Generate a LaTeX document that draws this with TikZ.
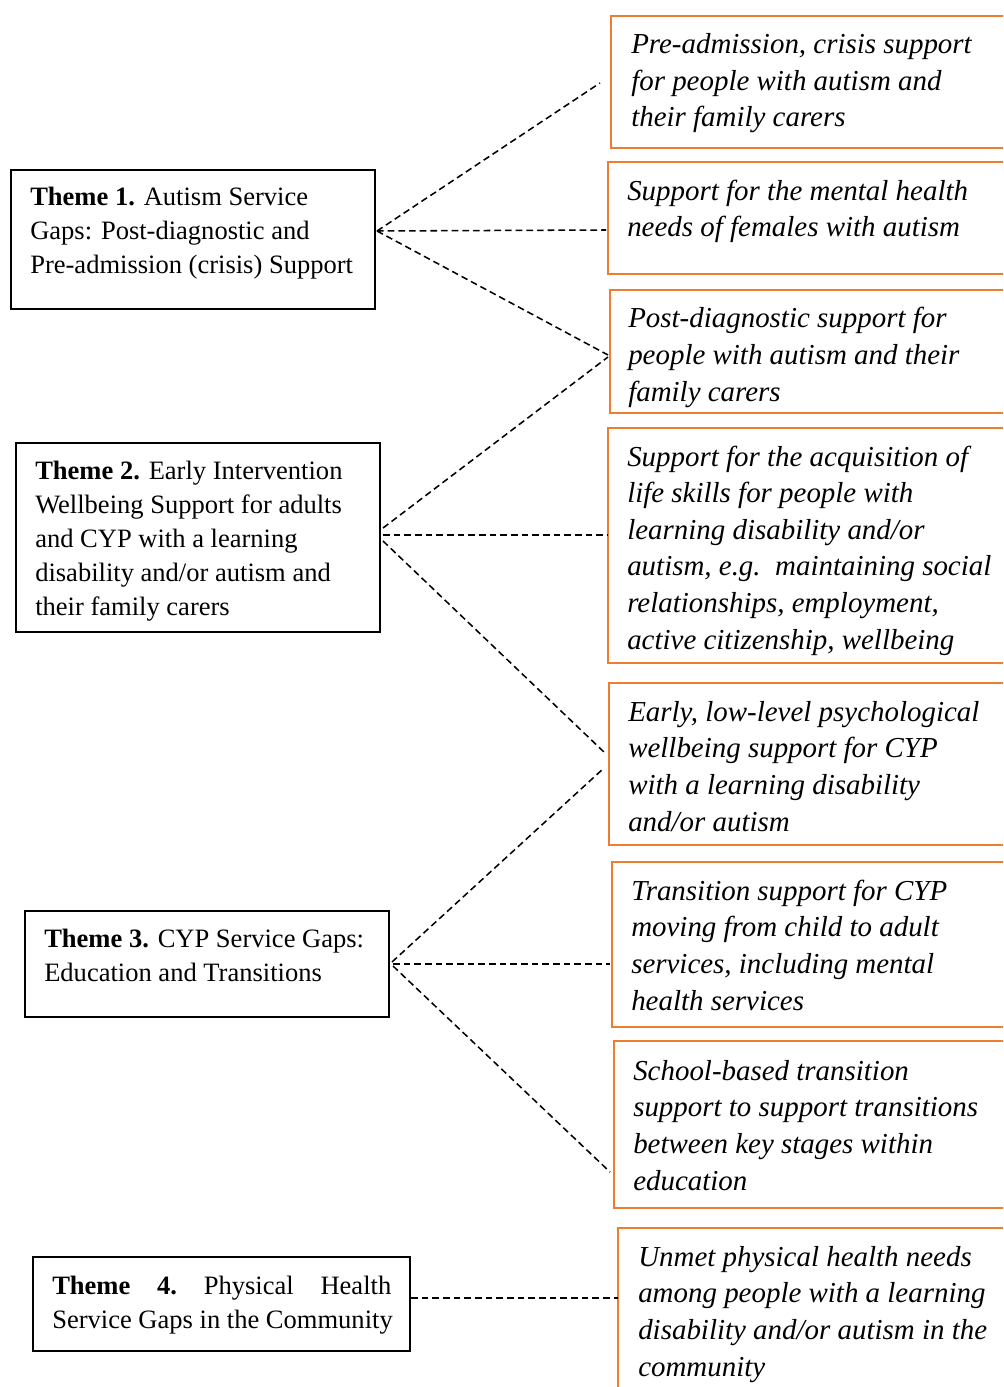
\documentclass[tikz,border=0pt]{standalone}
\usepackage{fontspec}
\setmainfont{Liberation Serif}
\usetikzlibrary{fit}
\definecolor{boxorange}{HTML}{ED7D31}
\begin{document}
\begin{tikzpicture}[x=0.75pt,y=-0.75pt,
  themebox/.style={draw=black, line width=1.5pt, inner sep=0pt},
  gapbox/.style={draw=boxorange, line width=2.1pt, inner sep=0pt},
  themetext/.style={font=\fontsize{19.9pt}{25.5pt}\selectfont, align=left, inner sep=0pt, anchor=base west},
  gaptext/.style={font=\fontsize{21.7pt}{27.4pt}\selectfont\itshape, align=left, inner sep=0pt, anchor=base west},
  link/.style={draw=black, line width=1.15pt, dash pattern=on 5pt off 3pt}]
\useasboundingbox (0,0) rectangle (1003,1387);
\clip (0,0) rectangle (1003,1387);

% theme boxes
\node[themebox, fit={(11,170) (375,309)}] (t1) {};
\node[themebox, fit={(16,443) (380,632)}] (t2) {};
\node[themebox, fit={(25,911) (389,1017)}] (t3) {};
\node[themebox, fit={(33,1257) (410,1351)}] (t4) {};

% text nodes are placed at the baseline of their last line
\node[themetext] (t1t) at (30,274) {\textbf{Theme 1.} Autism Service\\Gaps: Post-diagnostic and\\Pre-admission (crisis) Support};
\node[themetext] (t2t) at (35,615) {\textbf{Theme 2.} Early Intervention\\Wellbeing Support for adults\\and CYP with a learning\\disability and/or autism and\\their family carers};
\node[themetext] (t3t) at (44,981) {\textbf{Theme 3.} CYP Service Gaps:\\Education and Transitions};
\node[themetext] (t4t) at (52,1328) {\hbox to 254.25pt{\textbf{Theme}\hfill\textbf{4.}\hfill Physical\hfill Health}\\Service Gaps in the Community};

% gap boxes
\node[gapbox, fit={(611,16) (1020,148)}] (r1) {};
\node[gapbox, fit={(608,162) (1020,274)}] (r2) {};
\node[gapbox, fit={(610,290) (1020,413)}] (r3) {};
\node[gapbox, fit={(608,428) (1020,663)}] (r4) {};
\node[gapbox, fit={(609,683) (1020,845)}] (r5) {};
\node[gapbox, fit={(612,862) (1020,1027)}] (r6) {};
\node[gapbox, fit={(614,1041) (1020,1208)}] (r7) {};
\node[gapbox, fit={(618,1228) (1020,1400)}] (r8) {};

\node[gaptext] (r1t) at (631,127) {Pre-admission, crisis support\\for people with autism and\\their family carers};
\node[gaptext] (r2t) at (627,237) {Support for the mental health\\needs of females with autism};
\node[gaptext] (r3t) at (628,401) {Post-diagnostic support for\\people with autism and their\\family carers};
\node[gaptext] (r4t) at (627,649) {Support for the acquisition of\\life skills for people with\\learning disability and/or\\autism, e.g.\ \ maintaining social\\relationships, employment,\\active citizenship, wellbeing};
\node[gaptext] (r5t) at (628,831) {Early, low-level psychological\\wellbeing support for CYP\\with a learning disability\\and/or autism};
\node[gaptext] (r6t) at (631,1010) {Transition support for CYP\\moving from child to adult\\services, including mental\\health services};
\node[gaptext] (r7t) at (633,1190) {School-based transition\\support to support transitions\\between key stages within\\education};
\node[gaptext] (r8t) at (638,1376) {Unmet physical health needs\\among people with a learning\\disability and/or autism in the\\community};

% connector end points
\coordinate (h1) at (377,231);
\coordinate (e11) at (600,83);
\coordinate (e12) at (606,230);
\coordinate (e13) at (608,355);
\coordinate (h2a) at (383,528);
\coordinate (h2b) at (383,535);
\coordinate (h2c) at (383,541);
\coordinate (e21) at (608,357);
\coordinate (e22) at (608,535);
\coordinate (e23) at (605,753);
\coordinate (h3a) at (392,962);
\coordinate (h3b) at (393,964);
\coordinate (h3c) at (393,966);
\coordinate (e31) at (604,768);
\coordinate (e32) at (610,964);
\coordinate (e33) at (610,1172);
\coordinate (h4) at (411,1298);
\coordinate (e41) at (618,1298);

\draw[link] (h1) -- (e11);
\draw[link] (h1) -- (e12);
\draw[link] (h1) -- (e13);
\draw[link] (h2a) -- (e21);
\draw[link] (h2b) -- (e22);
\draw[link] (h2c) -- (e23);
\draw[link] (h3a) -- (e31);
\draw[link] (h3b) -- (e32);
\draw[link] (h3c) -- (e33);
\draw[link] (h4) -- (e41);
\end{tikzpicture}
\end{document}
